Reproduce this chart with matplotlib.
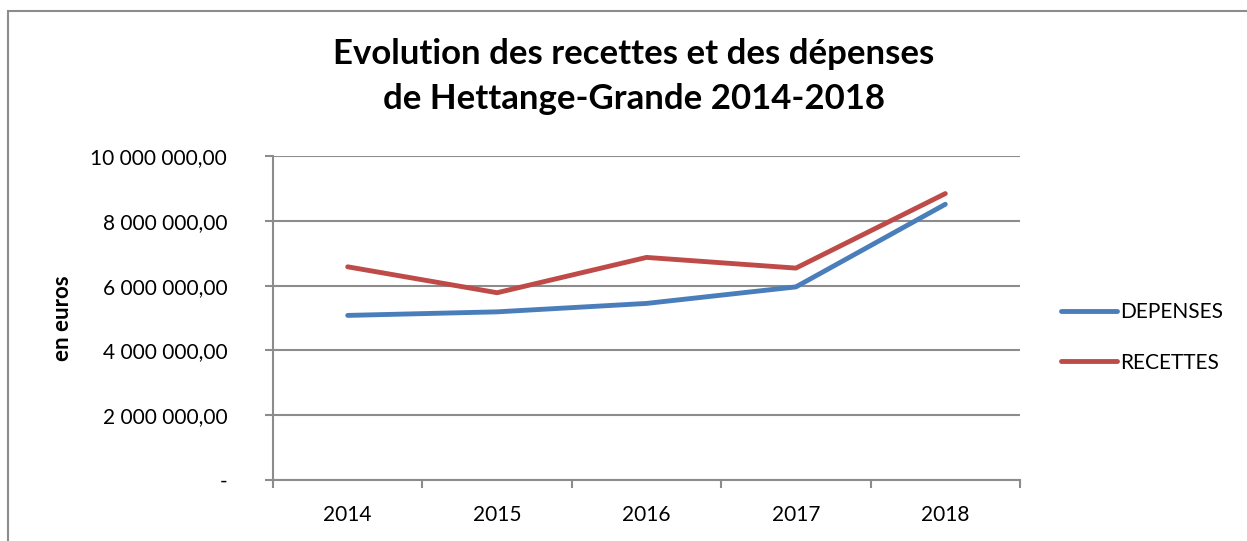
import matplotlib.pyplot as plt
from matplotlib.ticker import FuncFormatter, FixedLocator
from matplotlib.patches import Rectangle

# Data (euros)
years = ['2014', '2015', '2016', '2017', '2018']
depenses = [5080000, 5190000, 5450000, 5960000, 8510000]
recettes = [6580000, 5780000, 6870000, 6540000, 8840000]

plt.rcParams['font.family'] = ['Lato', 'DejaVu Sans']

fig = plt.figure(figsize=(12.47, 5.41), dpi=100)
ax = fig.add_axes([273 / 1247, 1 - 480 / 541, (1020 - 273) / 1247, (480 - 156) / 541])

x = range(len(years))
ax.plot(x, depenses, color='#4A7EBB', lw=3.5, solid_capstyle='round', label='DEPENSES', zorder=3)
ax.plot(x, recettes, color='#BE4B48', lw=3.5, solid_capstyle='round', label='RECETTES', zorder=3)

ax.set_xlim(-0.5, len(years) - 0.5)
ax.set_ylim(0, 10000000)


def fmt(v, pos):
    if v == 0:
        return '-'
    return f'{v:,.2f}'.replace(',', ' ').replace('.', ',')


grid_col = '#8C8C8C'
ax.yaxis.set_major_locator(FixedLocator([0, 2e6, 4e6, 6e6, 8e6, 10e6]))
ax.yaxis.set_major_formatter(FuncFormatter(fmt))
ax.grid(axis='y', color=grid_col, lw=1.5)
ax.set_axisbelow(True)

# category labels centred, tick marks between categories
ax.xaxis.set_major_locator(FixedLocator([i - 0.5 for i in range(len(years) + 1)]))
ax.xaxis.set_major_formatter(FuncFormatter(lambda v, p: ''))
ax.set_xticks(list(x), years, minor=True)
ax.tick_params(axis='x', which='minor', length=0, pad=18, labelsize=15)
ax.tick_params(axis='x', which='major', length=6, width=1.5, color=grid_col)
ax.tick_params(axis='y', length=6, width=1.5, color=grid_col, pad=27, labelsize=15)

for s in ['top', 'right']:
    ax.spines[s].set_visible(False)
for s in ['left', 'bottom']:
    ax.spines[s].set_color(grid_col)
    ax.spines[s].set_linewidth(1.5)

ax.set_ylabel('en euros', fontsize=16, fontweight='bold')
ax.yaxis.set_label_coords(-0.268, 0.5)

fig.suptitle('Evolution des recettes et des dépenses\nde Hettange-Grande 2014-2018',
             fontsize=25, fontweight='bold', y=0.93, x=634 / 1247, linespacing=1.5)

ax.legend(loc='center left', bbox_to_anchor=(1.03, 0.44), frameon=False, fontsize=15,
          handlelength=2.7, handletextpad=0.15, labelspacing=1.45)

# outer chart border
fig.patches.append(Rectangle((8 / 1247, -0.1), 1.2, 1 - 11 / 541 + 0.1,
                             transform=fig.transFigure, fill=False,
                             edgecolor='#8C8C8C', lw=1.5))

fig.savefig('out.png', dpi=100)
